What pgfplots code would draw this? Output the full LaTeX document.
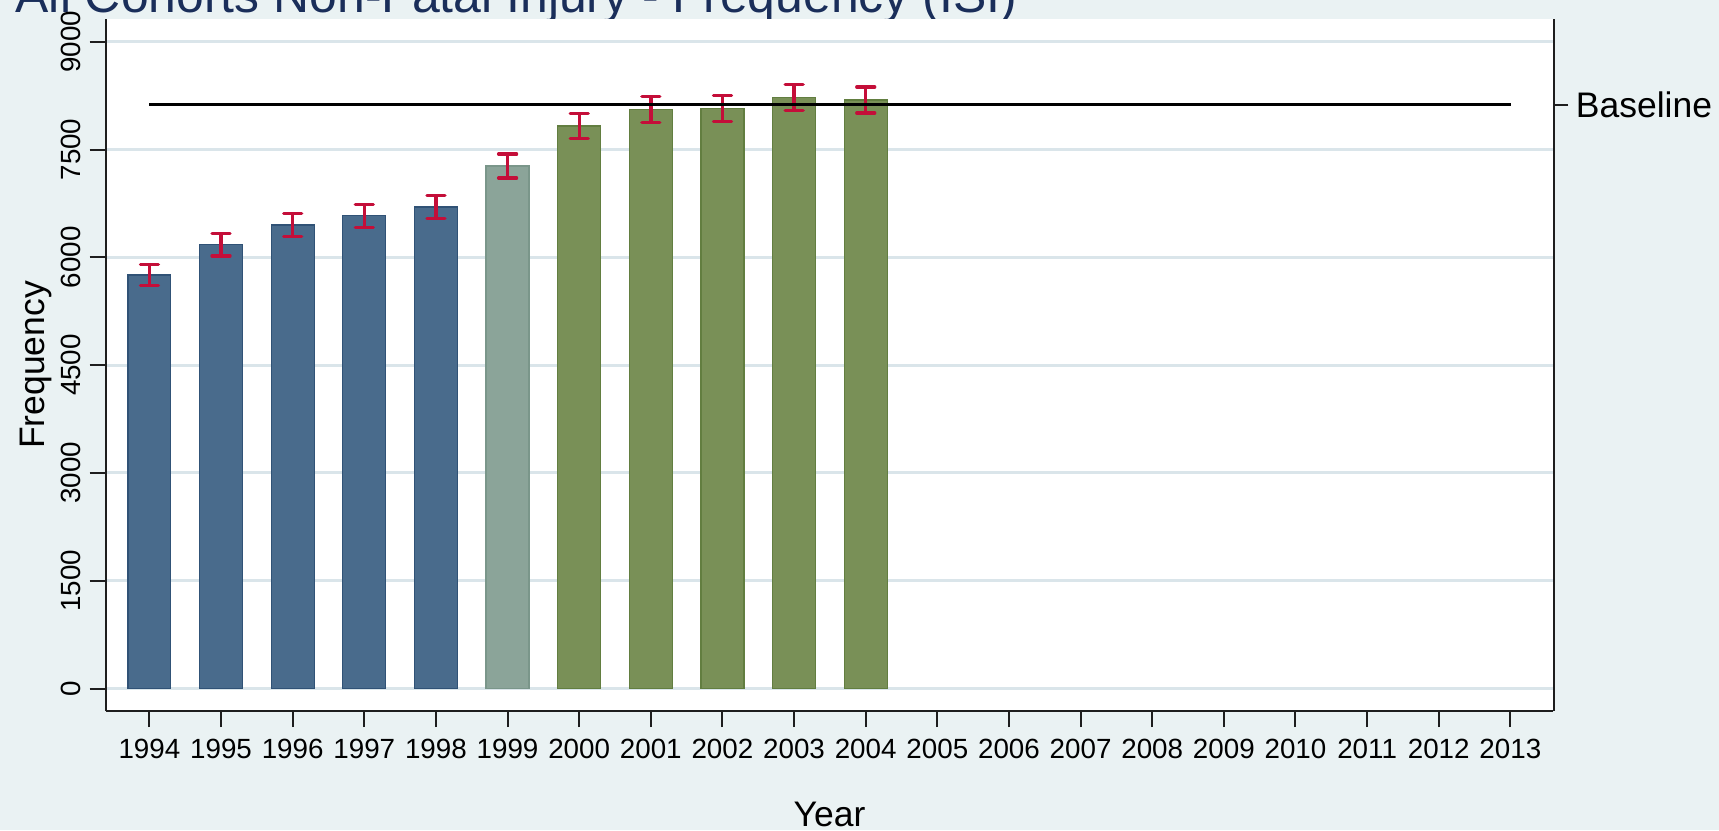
\documentclass[border=0pt]{standalone}
\usepackage{fontspec}
\setmainfont{Liberation Sans}
\usepackage{pgfplots}
\usepackage{pgfplotstable}
\pgfplotsset{compat=1.18}

\definecolor{bgcol}{RGB}{234,242,243}
\definecolor{gridcol}{RGB}{218,229,234}
\definecolor{axcol}{RGB}{30,30,30}
\definecolor{titlecol}{RGB}{26,46,90}
\definecolor{bluebar}{RGB}{73,107,140}
\definecolor{blueedge}{RGB}{48,82,118}
\definecolor{transbar}{RGB}{139,164,153}
\definecolor{transedge}{RGB}{122,150,138}
\definecolor{greenbar}{RGB}{121,144,87}
\definecolor{greenedge}{RGB}{98,126,64}
\definecolor{errcol}{RGB}{196,14,57}

% annual frequency with half-width of the confidence interval
\pgfplotstableread{
year freq err
1994 5753 150
1995 6175 155
1996 6449 157
1997 6579 160
1998 6700 161
}\prebars
\pgfplotstableread{
year freq err
1999 7270 166
}\midbar
\pgfplotstableread{
year freq err
2000 7826 174
2001 8059 179
2002 8073 179
2003 8226 181
2004 8188 181
}\postbars

\pgfplotsset{
  frame/.style={
    at={(10.57mm,11.9mm)}, anchor=south west,
    scale only axis, width=144.78mm, height=69.2mm,
    xmin=1993.39, xmax=2013.6, ymin=-313, ymax=9316,
  },
  /pgf/number format/1000 sep={},
  /pgf/number format/assume math mode=true,
  bars/.style n args={2}{
    ybar, bar width=0.6, bar shift=0pt, fill=#1, draw=#2, line width=0.12mm,
    error bars/.cd, y dir=both, y explicit,
    error bar style={line width=0.33mm, draw=errcol, solid},
    error mark=-,
    error mark options={rotate=90, draw=errcol, line width=0.33mm, mark size=0.9mm, solid, line cap=round},
  },
}

\begin{document}
\begin{tikzpicture}
\path[use as bounding box] (0,0) rectangle (171.9mm,83mm);
\fill[bgcol] (0,0) rectangle (171.9mm,83mm);
\node[anchor=base west, inner sep=0pt, text=titlecol,
      font=\fontsize{14.2}{16}\selectfont] at (1.5mm,81.8mm)
  {All Cohorts Non-Fatal Injury - Frequency (ISI)};

\begin{axis}[frame,
  axis background/.style={fill=white},
  axis x line*=bottom, axis y line*=left,
  axis line style={-, line width=0.2mm, draw=axcol},
  tick align=outside, major tick length=1.6mm,
  tick style={line width=0.2mm, draw=axcol},
  xtick={1994,...,2013},
  ytick={0,1500,...,9000},
  ymajorgrids, grid style={line width=0.3mm, draw=gridcol},
  xticklabel style={font=\fontsize{7.9}{9}\selectfont},
  yticklabel style={font=\fontsize{7.9}{9}\selectfont, rotate=90, anchor=base, yshift=0.9mm},
  xlabel={Year}, ylabel={Frequency},
  xlabel style={font=\fontsize{10.1}{12}\selectfont,
                at={(axis description cs:0.5,-0.1676)}, anchor=base},
  ylabel style={font=\fontsize{10.1}{12}\selectfont,
                at={(axis description cs:-0.0426,0.5)}, anchor=base},
]
\addplot[bars={bluebar}{blueedge}] table[x=year, y=freq, y error=err] {\prebars};
\addplot[bars={transbar}{transedge}] table[x=year, y=freq, y error=err] {\midbar};
\addplot[bars={greenbar}{greenedge}] table[x=year, y=freq, y error=err] {\postbars};
% reference level
\addplot[black, line width=0.33mm, no markers] coordinates {(1994,8125) (2013,8125)};
\end{axis}

% right-hand axis carrying the baseline label
\begin{axis}[frame,
  axis x line=none, axis y line*=right,
  axis line style={-, line width=0.2mm, draw=axcol},
  tick align=outside, major tick length=1.5mm,
  tick style={line width=0.2mm, draw=axcol},
  ytick={8125}, yticklabels={Baseline},
  yticklabel style={font=\fontsize{10.1}{12}\selectfont, xshift=-0.5mm},
]
\addplot[draw=none] coordinates {(2000,0)};
\end{axis}
\end{tikzpicture}
\end{document}
